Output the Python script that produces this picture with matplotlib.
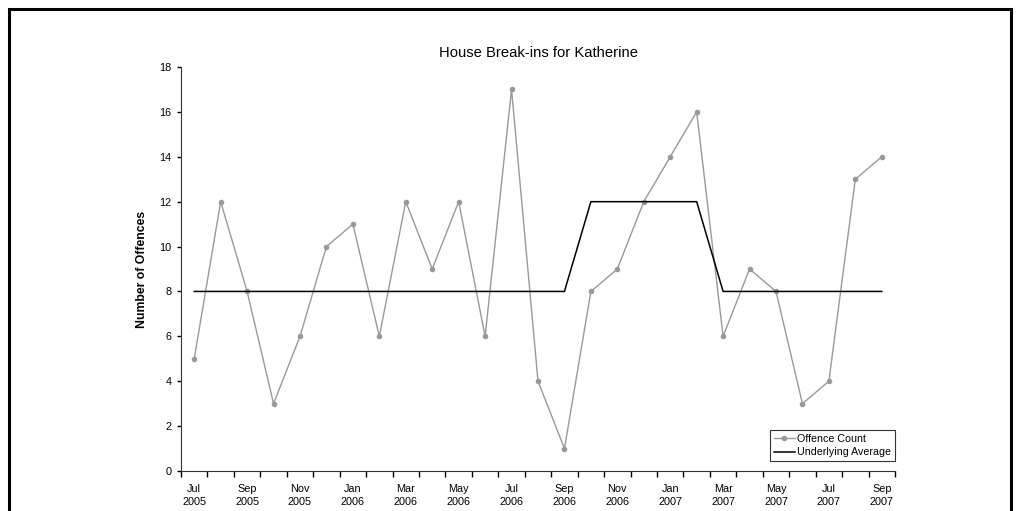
import numpy as np
import matplotlib.pyplot as plt
from matplotlib.patches import Rectangle

plt.rcParams['font.family'] = ['Liberation Sans', 'DejaVu Sans']

# monthly categories, Jul 2005 .. Sep 2007
months = ['Jul', 'Aug', 'Sep', 'Oct', 'Nov', 'Dec', 'Jan', 'Feb', 'Mar',
          'Apr', 'May', 'Jun'] * 3
months = months[:27]
years = ['2005'] * 6 + ['2006'] * 12 + ['2007'] * 9

offence_count = [5, 12, 8, 3, 6, 10, 11, 6, 12, 9, 12, 6, 17, 4, 1,
                 8, 9, 12, 14, 16, 6, 9, 8, 3, 4, 13, 14]
underlying_avg = [8] * 15 + [12] * 5 + [8] * 7


def plotting():
    fig = plt.figure(figsize=(10.21, 5.11), dpi=100)
    ax = fig.add_axes([181 / 1021, 40 / 511, 714 / 1021, 404 / 511])

    x = np.arange(len(offence_count))
    ax.plot(x, offence_count, color='#999999', lw=1, marker='o', ms=3,
            label='Offence Count')
    ax.plot(x, underlying_avg, color='black', lw=1.1,
            label='Underlying Average')

    ax.set_xlim(-0.5, len(x) - 0.5)
    ax.set_ylim(0, 18)
    ax.set_yticks(range(0, 19, 2))

    # ticks between categories, labels every second month
    ax.set_xticks(np.arange(-0.5, len(x), 1.0), minor=True)
    ax.set_xticks(x[::2])
    ax.set_xticklabels([months[i] + '\n' + years[i] for i in x[::2]],
                       linespacing=1.4)
    ax.tick_params(axis='x', which='major', length=0, pad=9, labelsize=7.8)
    ax.tick_params(axis='x', which='minor', length=4, width=1)
    ax.tick_params(axis='y', length=3, width=1, labelsize=7.8, pad=4)

    for s in ['top', 'right']:
        ax.spines[s].set_visible(False)
    ax.spines['left'].set_color('#333333')
    ax.spines['bottom'].set_color('#333333')

    ax.set_ylabel('Number of Offences', fontsize=8.8, fontweight='bold',
                  labelpad=8)
    ax.set_title('House Break-ins for Katherine', fontsize=10.6, pad=7)

    leg = ax.legend(loc='lower right', bbox_to_anchor=(1.0, 10 / 404),
                    fontsize=7.7, frameon=True, fancybox=False,
                    borderaxespad=0, handlelength=2.0, borderpad=0.35,
                    labelspacing=0.35, handletextpad=0.2)
    leg.get_frame().set_edgecolor('black')
    leg.get_frame().set_linewidth(0.8)

    # outer chart border
    fig.patches.append(Rectangle((9 / 1021, -0.05), 1002 / 1021, 1.05 - 9 / 511,
                                 transform=fig.transFigure, fill=False,
                                 edgecolor='black', lw=2.2))

    fig.savefig('out.png', dpi=100)


if __name__ == '__main__':
    plotting()
